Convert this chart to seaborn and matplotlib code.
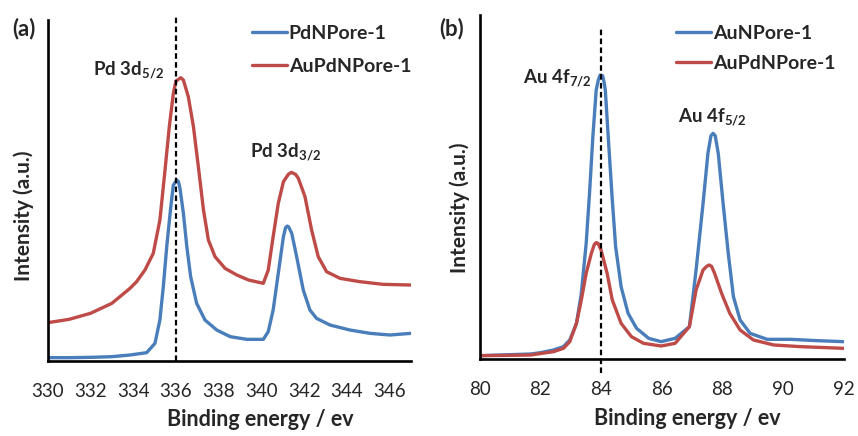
import numpy as np
import pandas as pd
import matplotlib
matplotlib.use("Agg")
import matplotlib.pyplot as plt
import seaborn as sns

# ---- data (arbitrary intensity units) ----
# (a) Pd 3d region
pd_x = [330, 331, 332, 333, 333.85, 334.63, 335.02, 335.25, 335.41, 335.57, 335.76, 335.88,
        336.04, 336.12, 336.19, 336.35, 336.51, 336.69, 336.97, 337.36, 337.91, 338.54,
        339.32, 340.09, 340.32, 340.55, 340.79, 341.03, 341.13, 341.21, 341.28, 341.42,
        341.65, 341.96, 342.27, 342.58, 343.21, 344.14, 345.08, 346.01, 347]
pd_y = [10, 10, 11, 13, 18, 25, 53, 123, 223, 343, 463, 528,
        543, 538, 518, 443, 343, 253, 173, 123, 93, 73,
        65, 65, 88, 153, 263, 373, 400, 405, 402, 383,
        313, 213, 153, 128, 108, 93, 83, 78, 83]

aupd_pd_x = [330, 331, 332, 333, 333.85, 334.16, 334.55, 334.94, 335.25, 335.49, 335.69,
             335.88, 336.0, 336.23, 336.35, 336.58, 336.82, 337.05, 337.29, 337.52, 337.83,
             338.3, 338.85, 339.4, 340.09, 340.32, 340.55, 340.79, 341.03, 341.26, 341.4,
             341.6, 341.73, 342.04, 342.35, 342.66, 343.05, 343.68, 344.61, 345.7, 347]
aupd_pd_y = [115, 125, 143, 173, 218, 238, 273, 323, 423, 573, 703,
             803, 840, 850, 843, 793, 703, 583, 453, 363, 313,
             278, 258, 243, 233, 273, 373, 473, 538, 560, 566,
             560, 548, 493, 393, 313, 268, 248, 238, 230, 228]

# (b) Au 4f region
au_x = [80, 81, 81.68, 82, 82.43, 82.76, 82.97, 83.19, 83.35, 83.51, 83.62, 83.73, 83.84,
        83.91, 83.97, 84.05, 84.1, 84.14, 84.25, 84.37, 84.48, 84.66, 84.89, 85.17, 85.57,
        85.98, 86.44, 86.91, 87.13, 87.36, 87.52, 87.62, 87.69, 87.76, 87.86, 88.02, 88.19,
        88.36, 88.58, 88.91, 89.47, 90.24, 91.13, 92]
au_y = [10, 13, 15, 19, 27, 37, 57, 107, 197, 347, 497, 667, 807,
        837, 852, 850, 830, 807, 647, 477, 337, 217, 137, 92, 62,
        52, 62, 97, 267, 467, 617, 670, 677, 670, 617, 467, 317,
        187, 117, 77, 59, 59, 55, 52]

aupd_au_x = [80, 81, 81.68, 82.43, 82.76, 82.97, 83.19, 83.35, 83.51, 83.68, 83.78, 83.84,
             83.9, 84.0, 84.2, 84.37, 84.66, 85.0, 85.4, 85.98, 86.44, 86.91, 87.13, 87.36,
             87.48, 87.56, 87.64, 87.74, 87.97, 88.24, 88.58, 89.02, 89.69, 90.58, 92]
aupd_au_y = [10, 11, 12, 22, 32, 52, 107, 177, 257, 317, 344, 349,
             347, 327, 257, 177, 107, 67, 47, 39, 47, 97, 207, 267,
             278, 282, 278, 257, 197, 137, 87, 57, 42, 37, 32]

blue = "#4a7ebb"
red = "#be4b48"

sns.set_style("white")
plt.rcParams["font.family"] = ["Lato", "DejaVu Sans"]
plt.rcParams["mathtext.fontset"] = "custom"
plt.rcParams["mathtext.rm"] = "Lato"
plt.rcParams["mathtext.bf"] = "Lato:bold"

fig = plt.figure(figsize=(8.58, 4.36), dpi=100)
ax1 = fig.add_axes([0.0556, 0.172, 0.4234, 0.782])
ax2 = fig.add_axes([0.559, 0.1766, 0.4246, 0.789])


def style_axis(ax, xticks, xl_x, yl_x, yl_y):
    for s in ["top", "right"]:
        ax.spines[s].set_visible(False)
    for s in ["left", "bottom"]:
        ax.spines[s].set_color("black")
        ax.spines[s].set_linewidth(1.9)
    ax.set_xticks(xticks)
    ax.set_yticks([])
    ax.tick_params(axis="x", direction="out", length=5, width=1.3, color="black",
                   labelsize=13.5, pad=11)
    ax.set_xlabel("Binding energy / ev", fontsize=15.5, fontweight="bold")
    ax.set_ylabel("Intensity (a.u.)", fontsize=15, fontweight="bold")
    ax.xaxis.set_label_coords(xl_x, -0.142)
    ax.yaxis.set_label_coords(yl_x, yl_y)


# (a)
sns.lineplot(x=pd_x, y=pd_y, ax=ax1, color=blue, linewidth=2.4, label="PdNPore-1")
sns.lineplot(x=aupd_pd_x, y=aupd_pd_y, ax=ax1, color=red, linewidth=2.4, label="AuPdNPore-1")
ax1.set_xlim(330, 347)
ax1.set_ylim(0, 1023)
ax1.axvline(336.02, color="black", linestyle=(0, (2.5, 1.5)), linewidth=1.6, ymax=1.01,
            clip_on=False)
style_axis(ax1, range(330, 348, 2), 0.584, -0.038, 0.427)
ax1.text(333.78, 858, "Pd 3d$_{\\mathbf{5/2}}$", ha="center", va="baseline",
         fontsize=13.5, fontweight="bold")
ax1.text(341.15, 612, "Pd 3d$_{\\mathbf{3/2}}$", ha="center", va="baseline",
         fontsize=13.5, fontweight="bold")
ax1.legend(loc="upper left", bbox_to_anchor=(0.562, 0.985), frameon=False,
           handlelength=1.8, handletextpad=0.1, borderpad=0, borderaxespad=0,
           labelspacing=0.82, prop={"weight": "bold", "size": 14})
fig.text(0.014, 0.935, "(a)", fontsize=16, fontweight="bold", va="center")

# (b)
sns.lineplot(x=au_x, y=au_y, ax=ax2, color=blue, linewidth=2.4, label="AuNPore-1")
sns.lineplot(x=aupd_au_x, y=aupd_au_y, ax=ax2, color=red, linewidth=2.4, label="AuPdNPore-1")
ax2.set_xlim(80, 92)
ax2.set_ylim(0, 1032)
ax2.axvline(84.0, color="black", linestyle=(0, (2.5, 1.5)), linewidth=1.6, ymin=-0.041,
            ymax=0.965, clip_on=False)
style_axis(ax2, range(80, 93, 2), 0.571, -0.027, 0.44)
ax2.text(82.55, 828, "Au 4f$_{\\mathbf{7/2}}$", ha="center", va="baseline",
         fontsize=13.5, fontweight="bold")
ax2.text(87.68, 711, "Au 4f$_{\\mathbf{5/2}}$", ha="center", va="baseline",
         fontsize=13.5, fontweight="bold")
ax2.legend(loc="upper left", bbox_to_anchor=(0.539, 0.972), frameon=False,
           handlelength=1.8, handletextpad=0.1, borderpad=0, borderaxespad=0,
           labelspacing=0.67, prop={"weight": "bold", "size": 14})
fig.text(0.512, 0.935, "(b)", fontsize=16, fontweight="bold", va="center")

fig.savefig("out.png", dpi=100)
